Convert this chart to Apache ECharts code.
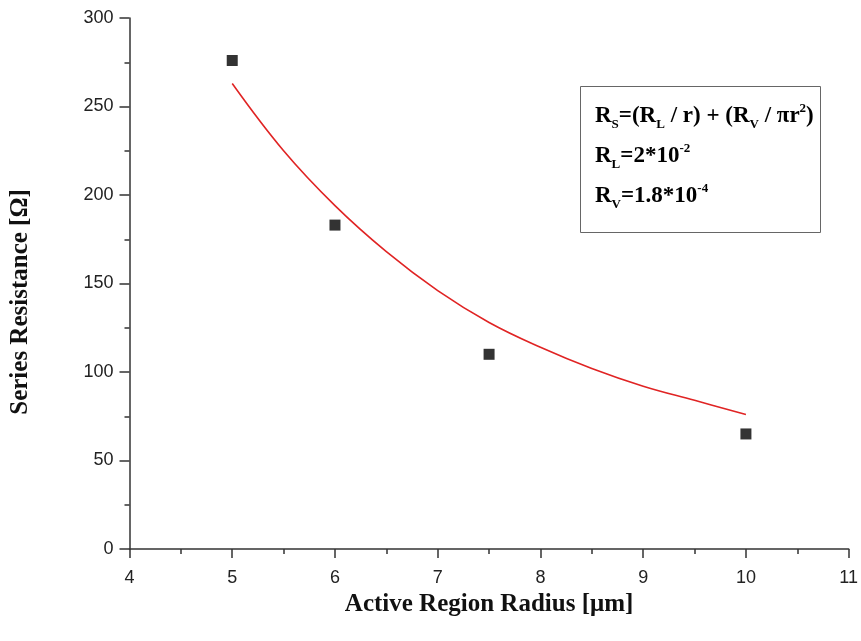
<!DOCTYPE html>
<html>
<head>
<meta charset="utf-8">
<script src="https://cdn.jsdelivr.net/npm/echarts@6/dist/echarts.min.js"></script>
<style>html,body{margin:0;padding:0;background:#fff;}#c{width:861px;height:641px;}</style>
</head>
<body>
<div id="c"></div>
<script>
// Measured points
var radius = [5, 6, 7.5, 10];
var resistance = [276, 183, 110, 65];
// Fitted curve
var fitRadius = [5, 5.5, 6, 6.5, 7, 7.5, 8, 8.5, 9, 9.5, 10];
var fitResistance = [263, 225, 194, 168, 146, 128, 114, 102, 92, 84, 76];
var xTicks = [4, 5, 6, 7, 8, 9, 10, 11];
var yTicks = [0, 50, 100, 150, 200, 250, 300];

var chart = echarts.init(document.getElementById('c'), null, {renderer: 'canvas'});
var axisColor = '#333';
var option = {
  animation: false,
  backgroundColor: '#fff',
  grid: {left: 129.5, right: 12, top: 18, bottom: 92, containLabel: false},
  xAxis: {
    type: 'value', min: xTicks[0], max: xTicks[xTicks.length - 1], interval: 1,
    name: 'Active Region Radius [\u03bcm]', nameLocation: 'middle', nameGap: 43,
    nameTextStyle: {fontFamily: 'Liberation Serif', fontWeight: 'bold', fontSize: 25, color: '#111'},
    axisLine: {show: true, onZero: false, lineStyle: {color: axisColor, width: 1.5}},
    axisTick: {show: true, inside: false, length: 9, lineStyle: {color: axisColor, width: 1.5}},
    minorTick: {show: true, splitNumber: 2, length: 5, lineStyle: {color: axisColor, width: 1.5}},
    axisLabel: {fontFamily: 'Liberation Sans', fontSize: 18, color: '#222', margin: 20},
    splitLine: {show: false}
  },
  yAxis: {
    type: 'value', min: yTicks[0], max: yTicks[yTicks.length - 1], interval: 50,
    axisLine: {show: true, onZero: false, lineStyle: {color: axisColor, width: 1.5}},
    axisTick: {show: true, inside: false, length: 10, lineStyle: {color: axisColor, width: 1.5}},
    minorTick: {show: true, splitNumber: 2, length: 5, lineStyle: {color: axisColor, width: 1.5}},
    axisLabel: {fontFamily: 'Liberation Sans', fontSize: 18, color: '#222', margin: 16},
    splitLine: {show: false}
  },
  series: [
    {
      type: 'line', data: fitRadius.map(function (x, i) { return [x, fitResistance[i]]; }),
      smooth: 0.4, showSymbol: false, symbol: 'none',
      lineStyle: {color: '#e02424', width: 1.6}, z: 2
    },
    {
      type: 'scatter', data: radius.map(function (x, i) { return [x, resistance[i]]; }),
      symbol: 'rect', symbolSize: 11, itemStyle: {color: '#000'}, z: 3
    }
  ],
  graphic: [
    {
      type: 'text', x: 21, y: 302, rotation: Math.PI / 2, z: 11,
      style: {
        text: 'Series Resistance [\u03a9]', align: 'center', verticalAlign: 'middle',
        fontFamily: 'Liberation Serif', fontWeight: 'bold', fontSize: 25, fill: '#111'
      }
    },
    {
      type: 'rect', shape: {x: 580.5, y: 86.5, width: 240, height: 146},
      style: {fill: '#fff', stroke: '#666', lineWidth: 1}, z: 10
    },
    {
      type: 'text', x: 595, y: 96, z: 11,
      style: {
        text: '{m|R}{sub|S}{m|=(R}{sub|L}{m| / r) + (R}{sub|V}{m| / \u03c0r}{sup|2}{m|)}\n' +
              '{m|R}{sub|L}{m|=2*10}{sup|-2}\n' +
              '{m|R}{sub|V}{m|=1.8*10}{sup|-4}',
        rich: {
          m: {fontFamily: 'Liberation Serif', fontWeight: 'bold', fontSize: 23, color: '#111', lineHeight: 40, verticalAlign: 'middle'},
          sub: {fontFamily: 'Liberation Serif', fontWeight: 'bold', fontSize: 13, color: '#111', lineHeight: 40, verticalAlign: 'bottom', padding: [0, 0, 5, 0]},
          sup: {fontFamily: 'Liberation Serif', fontWeight: 'bold', fontSize: 13, color: '#111', lineHeight: 40, verticalAlign: 'top', padding: [6, 0, 0, 0]}
        }
      }
    }
  ]
};
chart.setOption(option);
</script>
</body>
</html>
